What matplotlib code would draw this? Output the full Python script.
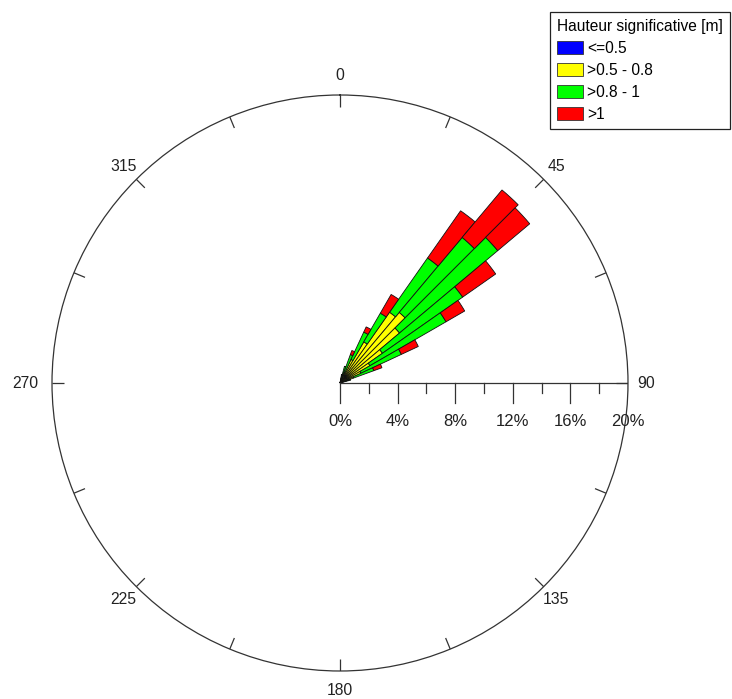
import numpy as np
import matplotlib
matplotlib.use("Agg")
import matplotlib.pyplot as plt
from matplotlib.patches import Patch

plt.rcParams['font.family'] = ['Liberation Sans', 'DejaVu Sans']

# ---- data ----
directions = [12.5, 17.5, 22.5, 27.5, 32.5, 37.5, 42.5, 47.5, 52.5, 57.5, 62.5, 67.5, 72.5]
h_le_05 = [0.10, 0.10, 0.10, 0.10, 0.15, 0.15, 0.20, 0.20, 0.15, 0.15, 0.10, 0.10, 0.05]
h_05_08 = [0.30, 0.40, 0.70, 1.70, 3.15, 5.85, 6.20, 5.20, 3.45, 2.25, 1.50, 0.90, 0.30]
h_08_1 = [0.20, 0.70, 1.30, 2.10, 2.30, 4.60, 6.80, 8.90, 6.80, 6.10, 3.10, 1.50, 0.40]
h_gt_1 = [0.00, 0.00, 0.30, 0.40, 1.50, 4.00, 4.30, 2.90, 2.80, 1.50, 1.30, 0.60, 0.00]
series_labels = ['<=0.5', '>0.5 - 0.8', '>0.8 - 1', '>1']
series_colors = ['#0000ff', '#ffff00', '#00ff00', '#ff0000']
legend_title = 'Hauteur significative [m]'
radial_ticks = [0, 4, 8, 12, 16, 20]
dir_labels = [0, 45, 90, 135, 180, 225, 270, 315]
sector_width = 5.0
rmax = 20

W, H = 732, 699
fig = plt.figure(figsize=(W / 100, H / 100), dpi=100)
cx, cy, R = 340, 383, 288
rect = [(cx - R) / W, (H - cy - R) / H, 2 * R / W, 2 * R / H]

ax = fig.add_axes(rect, projection='polar')
ax.set_theta_zero_location('N')
ax.set_theta_direction(-1)
ax.set_ylim(0, rmax)
ax.set_xticks([])
ax.set_yticks([])
ax.grid(False)
ax.spines['polar'].set_color('#333333')
ax.spines['polar'].set_linewidth(0.9)

theta = np.deg2rad(directions)
width = np.deg2rad(sector_width)
bottom = np.zeros(len(directions))
for vals, col in zip([h_le_05, h_05_08, h_08_1, h_gt_1], series_colors):
    v = np.array(vals)
    ax.bar(theta, v, width=width, bottom=bottom, color=col,
           edgecolor='#111111', linewidth=0.6, align='center')
    bottom = bottom + v

# ---- overlay for decorations (pixel units) ----
ov = fig.add_axes(rect)
ov.set_xlim(-R, R)
ov.set_ylim(-R, R)
ov.axis('off')
ov.patch.set_alpha(0)
tc = '#333333'
for a in np.arange(0, 360, 22.5):
    r_ = np.deg2rad(a)
    ov.plot([276 * np.sin(r_), R * np.sin(r_)], [276 * np.cos(r_), R * np.cos(r_)],
            color=tc, lw=0.9, solid_capstyle='butt')

fs = 11.3
for d in dir_labels:
    r_ = np.deg2rad(d)
    if d == 0:
        ha, va, rr = 'center', 'bottom', 300
    elif d == 180:
        ha, va, rr = 'center', 'top', 300
    elif d == 90:
        ha, va, rr = 'left', 'center', 297
    elif d == 270:
        ha, va, rr = 'right', 'center', 302
    else:
        ha, va, rr = 'center', 'center', 306
    ov.text(rr * np.sin(r_), rr * np.cos(r_), str(d), ha=ha, va=va,
            fontsize=fs, color='#222222', clip_on=False)

# radial axis along 90 degrees
scale = R / rmax
ov.plot([0, R], [0, 0], color=tc, lw=0.9)
for t in np.arange(0, rmax + 0.1, 2):
    x = t * scale
    L = 20 if int(t) % 4 == 0 else 10
    ov.plot([x, x], [0, -L], color=tc, lw=0.9)
for t in radial_ticks:
    ov.text(t * scale, -39, f'{t}%', ha='center', va='center',
            fontsize=fs + 0.7, color='#222222', clip_on=False)

handles = [Patch(facecolor=c, edgecolor='#333333', linewidth=0.6) for c in series_colors]
leg = fig.legend(handles, series_labels, title=legend_title,
                 loc='upper left', bbox_to_anchor=(550 / W, 1 - 12 / H),
                 fontsize=11.2, title_fontsize=11.2, alignment='left',
                 fancybox=False, edgecolor='#222222', framealpha=1,
                 handlelength=1.65, handleheight=0.9, handletextpad=0.3,
                 labelspacing=0.45, borderpad=0.45, borderaxespad=0)
leg.get_frame().set_linewidth(0.9)

fig.savefig('out.png', dpi=100)
